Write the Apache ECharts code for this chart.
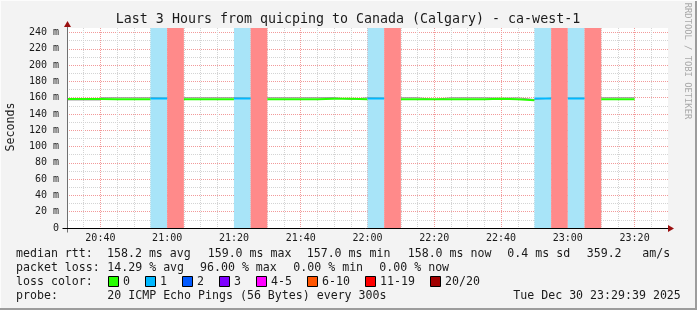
<!DOCTYPE html>
<html><head><meta charset="utf-8">
<script src="https://cdn.jsdelivr.net/npm/echarts@6/dist/echarts.min.js"></script>
<style>html,body{margin:0;padding:0;background:#f3f3f3}#c{width:697px;height:310px}</style>
</head><body><div id="c"></div>
<script>
// ---------------- data ----------------
const titleText = 'Last 3 Hours from quicping to Canada (Calgary) - ca-west-1';
const yAxisName = 'Seconds';
const sideText = 'RRDTOOL / TOBI OETIKER';
// minutes since 20:30 (x axis spans 20:30 .. 23:30)
const xMin = 0, xMax = 180;
const binMinutes = 5;
const binStartMin = [0,5,10,15,20,25,30,35,40,45,50,55,60,65,70,75,80,85,90,95,100,105,110,115,120,125,130,135,140,145,150,155,160,165];
// median rtt per 5-min bin (ms); null = no median drawn
const medianRtt = [158.3,158.3,158.2,158.2,158.2,159.0,null,158.2,158.2,158.2,159.0,null,158.2,158.2,158.2,158.7,158.7,158.2,159.0,null,158.2,158.2,158.2,158.2,158.2,158.8,158.2,157.0,159.0,null,159.0,null,158.2,158.0];
// smoke edge (ms)
const smokeEdge = [157.2,157.2,160.0,160.0,160.0,159.6,null,160.0,160.0,160.0,159.6,null,160.0,160.0,160.0,160.2,157.8,160.0,159.6,null,160.0,157.8,160.0,160.0,160.0,159.4,159.8,157.8,159.6,null,159.6,null,160.0,160.0];
// loss class index per bin (0 = "0", 1 = "1", ..., 6 = "11-19", 7 = "20/20")
const lossClass = [0,0,0,0,0,1,6,0,0,0,1,6,0,0,0,0,0,0,1,6,0,0,0,0,0,0,0,0,1,6,1,6,0,0];
const lossLabels = ['0','1','2','3','4-5','6-10','11-19','20/20'];
const lossColors = ['#26ff00','#00b8ff','#0059ff','#7e00ff','#ff00ff','#ff5500','#ff0000','#a10000'];
const lossBandColors = ['none','#a8e4f8','#a0c0ff','#c8a0ff','#ffa0ff','#ffb090','#ff8a8a','#d08080'];
const yMin = 0, yMax = 245.6;
const yTickValues = [0,20,40,60,80,100,120,140,160,180,200,220,240];
const yTickLabels = ['0','20 m','40 m','60 m','80 m','100 m','120 m','140 m','160 m','180 m','200 m','220 m','240 m'];
const xTickValues = [10,30,50,70,90,110,130,150,170];
const xTickLabels = ['20:40','21:00','21:20','21:40','22:00','22:20','22:40','23:00','23:20'];
const statLines = [
  ['median rtt:', '158.2 ms avg', '159.0 ms max', '157.0 ms min', '158.0 ms now', '0.4 ms sd', '359.2', 'am/s'],
  ['packet loss:', '14.29 % avg', '96.00 % max', '0.00 % min', '0.00 % now'],
  ['probe:', '20 ICMP Echo Pings (56 Bytes) every 300s', 'Tue Dec 30 23:29:39 2025']
];
const lossLegendTitle = 'loss color:';

// ---------------- layout ----------------
const MONO = '"DejaVu Sans Mono", monospace';
const TXT = '#1a1a1a';
const chart = echarts.init(document.getElementById('c'), null, {renderer: 'canvas'});

function segData(cls, arr) {
  const d = [];
  for (let i = 0; i < binStartMin.length; i++) {
    const v = arr[i];
    const t = binStartMin[i];
    if (lossClass[i] === cls && v != null) {
      d.push([t, v], [t + binMinutes, v]);
    } else if (d.length && d[d.length - 1][1] !== '-') {
      d.push([t, '-']);
    }
  }
  return d;
}
function smokeData() {
  const d = [];
  for (let i = 0; i < binStartMin.length; i++) {
    const v = smokeEdge[i], t = binStartMin[i];
    if (v != null) d.push([t, v], [t + binMinutes, v]);
    else d.push([t, '-']);
  }
  return d;
}
const bandAreas = [];
for (let i = 0; i < binStartMin.length; i++) {
  if (lossClass[i] > 0) {
    bandAreas.push([{xAxis: binStartMin[i], itemStyle: {color: lossBandColors[lossClass[i]], opacity: 1}},
                    {xAxis: binStartMin[i] + binMinutes}]);
  }
}
const xLabelMap = {}; xTickValues.forEach((v, i) => xLabelMap[v] = xTickLabels[i]);
const yLabelMap = {}; yTickValues.forEach((v, i) => yLabelMap[v] = yTickLabels[i]);

const series = [
  {type: 'line', data: [], z: 1, silent: true,
   markArea: {silent: true, data: bandAreas, itemStyle: {opacity: 1}}},
  {type: 'line', data: smokeData(), z: 2, symbol: 'none', lineStyle: {color: '#9a9a9a', width: 1}, animation: false}
];
for (let c = 0; c < lossColors.length; c++) {
  const d = segData(c, medianRtt);
  if (d.length) series.push({type: 'line', data: d, z: 3, symbol: 'none', connectNulls: false,
    lineStyle: {color: lossColors[c], width: 2}, animation: false});
}

chart.setOption({
  backgroundColor: '#f3f3f3',
  animation: false,
  grid: {left: 67, right: 29, top: 28, bottom: 82, show: true, backgroundColor: '#ffffff', borderWidth: 0},
  xAxis: {type: 'value', min: xMin, max: xMax, interval: 5,
    axisLine: {show: false}, axisTick: {show: false},
    axisLabel: {interval: 0, margin: 5, fontFamily: MONO, fontSize: 10, color: TXT,
      formatter: v => xLabelMap[v] || ''},
    splitLine: {show: true, showMinLine: true, showMaxLine: false,
      lineStyle: {color: ['#d4d4d4', '#d4d4d4', '#f29a9a', '#d4d4d4'], type: [1, 1], width: 1}}
  },
  yAxis: {type: 'value', min: yMin, max: yMax, interval: 10,
    axisLine: {show: false}, axisTick: {show: false},
    axisLabel: {margin: 8, fontFamily: MONO, fontSize: 10, color: TXT,
      formatter: v => (yLabelMap[v] !== undefined ? yLabelMap[v] : '')},
    splitLine: {show: true, showMinLine: true, showMaxLine: false,
      lineStyle: {color: ['#f29a9a', '#d4d4d4'], type: [1, 1], width: 1}}
  },
  series: series
});

// decorations computed from the axes
const p00 = chart.convertToPixel({gridIndex: 0}, [xMin, yMin]);
const p11 = chart.convertToPixel({gridIndex: 0}, [xMax, yMax]);
const L = Math.round(p00[0]) + 0.5, B = Math.round(p00[1]) + 0.5, R = Math.round(p11[0]), T = Math.round(p11[1]);
const g = [];
g.push({type: 'line', shape: {x1: L, y1: B + 4, x2: L, y2: T - 4}, style: {stroke: '#707070', lineWidth: 1}, z: 50});
g.push({type: 'line', shape: {x1: L - 5, y1: B, x2: R + 1, y2: B}, style: {stroke: '#000000', lineWidth: 1}, z: 50});
g.push({type: 'polygon', shape: {points: [[L - 3.5, T - 1], [L + 3.5, T - 1], [L, T - 7]]}, style: {fill: '#9a1010'}, z: 51});
g.push({type: 'polygon', shape: {points: [[R, B - 3.5], [R, B + 3.5], [R + 6, B]]}, style: {fill: '#9a1010'}, z: 51});
// title
g.push({type: 'text', x: 348, y: 19.5, style: {text: titleText, font: '13.3px ' + MONO, fill: TXT, textAlign: 'center', textVerticalAlign: 'middle'}});
g.push({type: 'text', x: 10.5, y: 127, rotation: Math.PI / 2, style: {text: yAxisName, font: '11.6px ' + MONO, fill: TXT, textAlign: 'center', textVerticalAlign: 'middle'}});
g.push({type: 'text', x: 687.5, y: 61, rotation: -Math.PI / 2, style: {text: sideText, font: '8.8px ' + MONO, fill: '#a8a8a8', textAlign: 'center', textVerticalAlign: 'middle'}});
// stats lines
const F = '11.6px ' + MONO;
const line1X = [16, 107, 207.7, 306.7, 407.7, 507.3, 586.7, 642.3];
const line2X = [16, 107.3, 200, 293.3, 379.3];
const line4X = [16, 107.3, 513.3];
[[statLines[0], line1X, 254], [statLines[1], line2X, 268], [statLines[2], line4X, 296]].forEach(([arr, xs, y]) => {
  arr.forEach((s, i) => g.push({type: 'text', x: xs[i], y: y, style: {text: s, font: F, fill: TXT, textVerticalAlign: 'middle'}}));
});
g.push({type: 'text', x: 16, y: 282, style: {text: lossLegendTitle, font: F, fill: TXT, textVerticalAlign: 'middle'}});
let lx = 108;
lossLabels.forEach((lab, i) => {
  g.push({type: 'rect', shape: {x: lx + 0.5, y: 276.5, width: 10, height: 10}, style: {fill: lossColors[i], stroke: '#000', lineWidth: 1}});
  g.push({type: 'text', x: lx + 15, y: 282, style: {text: lab, font: F, fill: TXT, textVerticalAlign: 'middle'}});
  lx = lx + 15 + lab.length * 7 + 15;
});
// frame
g.push({type: 'rect', shape: {x: 695, y: 0, width: 2, height: 310}, style: {fill: '#9c9c9c'}});
g.push({type: 'rect', shape: {x: 0, y: 308, width: 697, height: 2}, style: {fill: '#9c9c9c'}});
g.push({type: 'rect', shape: {x: 0, y: 0, width: 697, height: 1}, style: {fill: '#fcfcfc'}});
g.push({type: 'rect', shape: {x: 0, y: 0, width: 1, height: 308}, style: {fill: '#fcfcfc'}});
chart.setOption({graphic: {elements: g}});
</script></body></html>
